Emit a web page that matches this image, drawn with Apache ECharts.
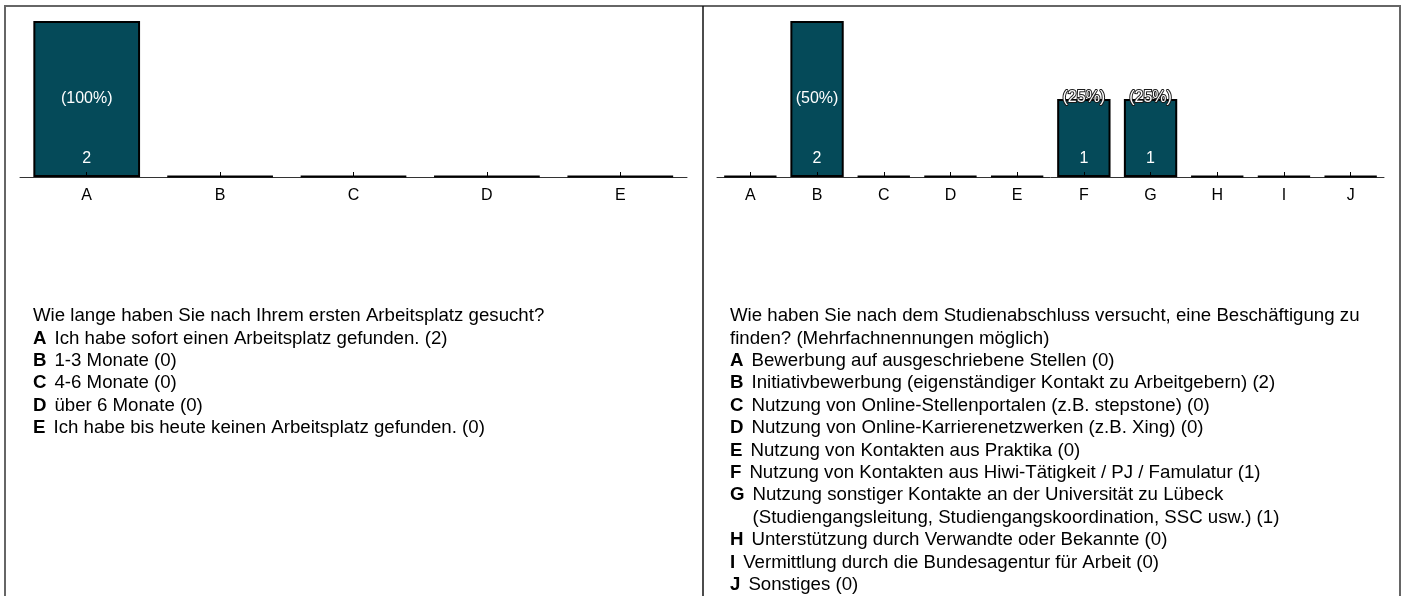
<!DOCTYPE html>
<html><head><meta charset="utf-8">
<script src="https://cdn.jsdelivr.net/npm/echarts@6/dist/echarts.min.js"></script>
<style>html,body{margin:0;padding:0;background:#fff}#c{width:1404px;height:596px}</style>
</head><body><div id="c"></div>
<script>
// ---- data ----
const catsLeft = ['A', 'B', 'C', 'D', 'E'];
const countsLeft = [2, 0, 0, 0, 0];
const pctLeft = [100, 0, 0, 0, 0];
const catsRight = ['A', 'B', 'C', 'D', 'E', 'F', 'G', 'H', 'I', 'J'];
const countsRight = [0, 2, 0, 0, 0, 1, 1, 0, 0, 0];
const pctRight = [0, 50, 0, 0, 0, 25, 25, 0, 0, 0];
const yMax = 2;
const questionLeft = ['Wie lange haben Sie nach Ihrem ersten Arbeitsplatz gesucht?'];
const answersLeft = [
  'Ich habe sofort einen Arbeitsplatz gefunden.',
  '1-3 Monate',
  '4-6 Monate',
  'über 6 Monate',
  'Ich habe bis heute keinen Arbeitsplatz gefunden.'
];
const questionRight = [
  'Wie haben Sie nach dem Studienabschluss versucht, eine Beschäftigung zu',
  'finden? (Mehrfachnennungen möglich)'
];
const answersRight = [
  'Bewerbung auf ausgeschriebene Stellen',
  'Initiativbewerbung (eigenständiger Kontakt zu Arbeitgebern)',
  'Nutzung von Online-Stellenportalen (z.B. stepstone)',
  'Nutzung von Online-Karrierenetzwerken (z.B. Xing)',
  'Nutzung von Kontakten aus Praktika',
  'Nutzung von Kontakten aus Hiwi-Tätigkeit / PJ / Famulatur',
  'Nutzung sonstiger Kontakte an der Universität zu Lübeck\n(Studiengangsleitung, Studiengangskoordination, SSC usw.)',
  'Unterstützung durch Verwandte oder Bekannte',
  'Vermittlung durch die Bundesagentur für Arbeit',
  'Sonstiges'
];

// ---- styling ----
const FONT = '"Liberation Sans", Arial, Helvetica, sans-serif';
const BAR = '#054a59';

function mainSeries(axisIdx, counts) {
  return {
    type: 'bar', xAxisIndex: axisIdx, yAxisIndex: axisIdx === 0 ? 0 : 1,
    barWidth: '80%', barGap: '-100%', barMinHeight: 1, z: 2,
    data: counts,
    itemStyle: { color: BAR, borderColor: '#000', borderWidth: 2 },
    label: {
      show: true, position: 'insideBottom', distance: 10,
      color: '#fff', fontSize: 16, fontFamily: FONT,
      formatter: p => (p.value > 0 ? String(p.value) : '')
    },
    silent: true
  };
}
function pctSeries(axisIdx, counts, pcts) {
  return {
    type: 'bar', xAxisIndex: axisIdx, yAxisIndex: axisIdx === 0 ? 0 : 1,
    barWidth: '80%', barGap: '-100%', z: 3,
    data: counts.map((c, i) => {
      const full = c * 2 > yMax;
      return {
        value: c,
        label: full
          ? { show: c > 0, position: 'inside', formatter: '(' + pcts[i] + '%)' }
          : { show: c > 0, position: 'top', distance: -6.5, formatter: '(' + pcts[i] + '%)',
              textBorderColor: '#1a1a1a', textBorderWidth: 2 }
      };
    }),
    itemStyle: { color: 'rgba(0,0,0,0)', borderWidth: 0 },
    label: { color: '#fff', fontSize: 16, fontFamily: FONT },
    silent: true
  };
}
function mainAxis(gridIdx, cats) {
  return {
    type: 'category', gridIndex: gridIdx, data: cats, position: 'bottom',
    axisLine: { lineStyle: { color: '#333', width: 1 } },
    axisTick: { alignWithLabel: true, length: 5, lineStyle: { color: '#000', width: 1 } },
    axisLabel: { color: '#000', fontSize: 16, fontFamily: FONT, margin: 11 },
    splitLine: { show: false }, z: 1
  };
}
function tickAxis(gridIdx, cats) {
  return {
    type: 'category', gridIndex: gridIdx, data: cats, position: 'bottom', offset: 0,
    axisLine: { show: false },
    axisTick: { show: true, inside: true, alignWithLabel: true, length: 5, lineStyle: { color: '#000', width: 1 } },
    axisLabel: { show: false },
    splitLine: { show: false }, z: 6
  };
}

const LH = 22.4, Y0 = 316, TS = 18.67;
function textBlock(x0, qLines, letters, answers, counts) {
  const els = [];
  let i = 0;
  qLines.forEach(q => {
    els.push({ type: 'text', x: x0, y: Y0 + LH * (i++), silent: true,
      style: { text: q, fill: '#000', fontSize: TS, fontFamily: FONT, verticalAlign: 'middle' } });
  });
  answers.forEach((a, k) => {
    const parts = a.split('\n');
    parts.forEach((p, j) => {
      const last = j === parts.length - 1;
      const txt = p + (last ? ' (' + counts[k] + ')' : '');
      const ls = j === 0 ? 'b' : 'h';
      els.push({ type: 'text', x: x0, y: Y0 + LH * (i++), silent: true,
        style: {
          text: '{' + ls + '|' + letters[k] + '}{t|' + txt + '}',
          verticalAlign: 'middle',
          rich: {
            b: { fill: '#000', fontSize: TS, fontWeight: 'bold', fontFamily: FONT, padding: [0, 8, 0, 0] },
            h: { fill: 'rgba(0,0,0,0)', fontSize: TS, fontWeight: 'bold', fontFamily: FONT, padding: [0, 8, 0, 0] },
            t: { fill: '#000', fontSize: TS, fontFamily: FONT }
          }
        } });
    });
  });
  return els;
}

const frame = [
  { type: 'line', shape: { x1: 5, y1: 6, x2: 1400, y2: 6 }, style: { stroke: '#666', lineWidth: 2 } },
  { type: 'line', shape: { x1: 5, y1: 5, x2: 5, y2: 596 }, style: { stroke: '#666', lineWidth: 2 } },
  { type: 'line', shape: { x1: 1400, y1: 5, x2: 1400, y2: 596 }, style: { stroke: '#666', lineWidth: 2 } },
  { type: 'line', shape: { x1: 703, y1: 6, x2: 703, y2: 596 }, style: { stroke: '#111', lineWidth: 1.5 } }
];

const chart = echarts.init(document.getElementById('c'), null, { renderer: 'canvas' });
chart.setOption({
  backgroundColor: '#fff',
  animation: false,
  grid: [
    { left: 20, top: 21, width: 667, height: 156 },
    { left: 717, top: 21, width: 667, height: 156 }
  ],
  xAxis: [mainAxis(0, catsLeft), tickAxis(0, catsLeft), mainAxis(1, catsRight), tickAxis(1, catsRight)],
  yAxis: [
    { type: 'value', gridIndex: 0, min: 0, max: yMax, show: false },
    { type: 'value', gridIndex: 1, min: 0, max: yMax, show: false }
  ],
  series: [
    mainSeries(0, countsLeft), pctSeries(0, countsLeft, pctLeft),
    mainSeries(2, countsRight), pctSeries(2, countsRight, pctRight)
  ],
  graphic: [].concat(
    frame,
    textBlock(33, questionLeft, catsLeft, answersLeft, countsLeft),
    textBlock(730, questionRight, catsRight, answersRight, countsRight)
  )
});
</script></body></html>
